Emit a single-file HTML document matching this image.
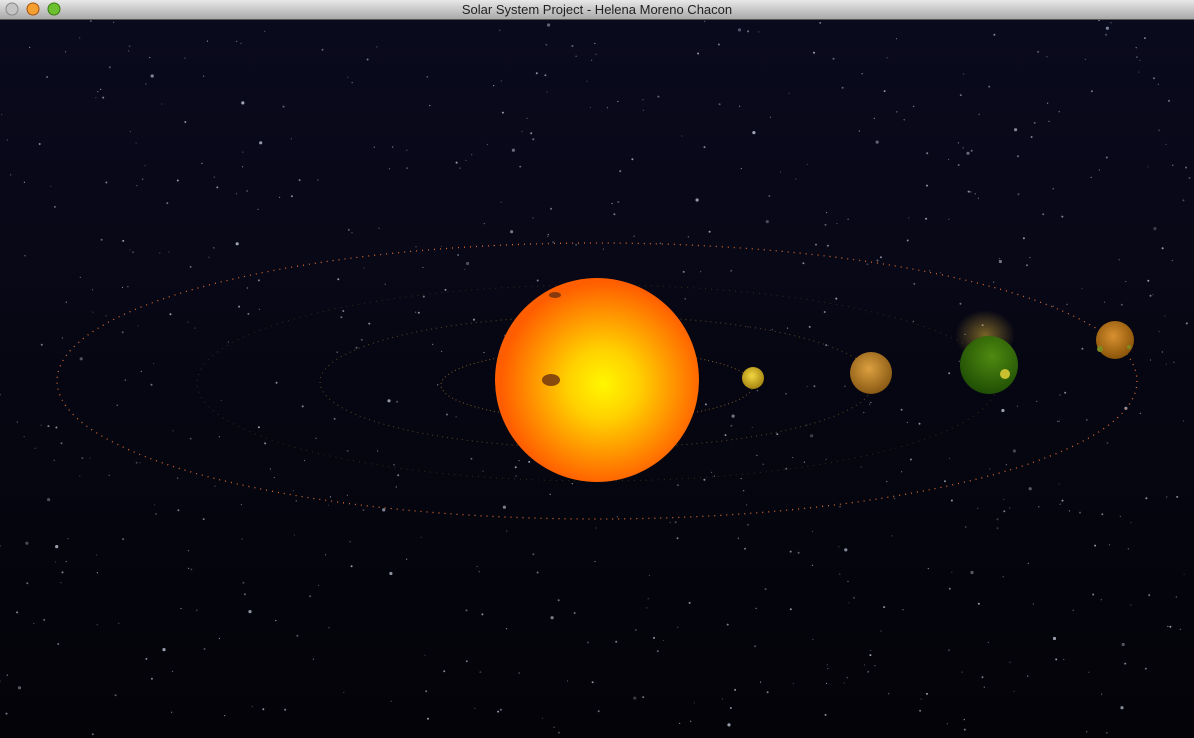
<!DOCTYPE html>
<html><head><meta charset="utf-8"><style>
html,body{margin:0;padding:0;width:1194px;height:738px;overflow:hidden;background:#04040c}
svg{display:block}
</style></head><body>
<svg id="s" width="1194" height="738" viewBox="0 0 1194 738">
<defs>
<linearGradient id="tb" x1="0" y1="0" x2="0" y2="1"><stop offset="0" stop-color="#e8e8e8"/><stop offset="1" stop-color="#a9a9a9"/></linearGradient>
<linearGradient id="bg" x1="0" y1="0" x2="0" y2="1"><stop offset="0" stop-color="#0a0a1e"/><stop offset="1" stop-color="#030308"/></linearGradient>
<radialGradient id="sun" cx="0.53" cy="0.52" r="0.5"><stop offset="0" stop-color="#fff700"/><stop offset="0.35" stop-color="#ffd000"/><stop offset="0.75" stop-color="#ff8a00"/><stop offset="1" stop-color="#ff5e00"/></radialGradient>
<radialGradient id="merc" cx="0.45" cy="0.4" r="0.6"><stop offset="0" stop-color="#f2d640"/><stop offset="1" stop-color="#a58410"/></radialGradient>
<radialGradient id="ven" cx="0.45" cy="0.4" r="0.6"><stop offset="0" stop-color="#dca040"/><stop offset="1" stop-color="#8a5a14"/></radialGradient>
<radialGradient id="ear" cx="0.55" cy="0.35" r="0.7"><stop offset="0" stop-color="#4f8a10"/><stop offset="1" stop-color="#1c4a04"/></radialGradient>
<radialGradient id="mar" cx="0.45" cy="0.4" r="0.6"><stop offset="0" stop-color="#d89030"/><stop offset="1" stop-color="#8a5408"/></radialGradient>
<radialGradient id="deb" cx="0.5" cy="0.5" r="0.5"><stop offset="0" stop-color="#a88a30" stop-opacity="0.7"/><stop offset="1" stop-color="#a88a30" stop-opacity="0"/></radialGradient>
</defs>
<rect x="0" y="0" width="1194" height="738" fill="url(#bg)"/>
<g id="stars"></g>
<ellipse cx="597" cy="381" rx="540" ry="138" fill="none" stroke="#d86a30" stroke-width="1.3" stroke-dasharray="1 5"/>
<ellipse cx="597" cy="382" rx="277" ry="66" fill="none" stroke="#5a4a20" stroke-width="1" stroke-dasharray="1 4"/>
<ellipse cx="597" cy="385" rx="156" ry="35" fill="none" stroke="#7a5a20" stroke-width="1" stroke-dasharray="1 3"/>
<ellipse cx="597" cy="383" rx="400" ry="98" fill="none" stroke="#2e2e1a" stroke-width="1" stroke-dasharray="1 5"/>
<circle cx="597" cy="380" r="102" fill="url(#sun)"/>
<ellipse cx="551" cy="380" rx="9" ry="6" fill="#6a3010" opacity="0.8"/>
<ellipse cx="555" cy="295" rx="6" ry="3" fill="#6a3010" opacity="0.8"/>
<circle cx="753" cy="378" r="11" fill="url(#merc)"/>
<circle cx="871" cy="373" r="21" fill="url(#ven)"/>
<ellipse cx="985" cy="335" rx="30" ry="25" fill="url(#deb)"/>
<circle cx="989" cy="365" r="29" fill="url(#ear)"/>
<circle cx="1005" cy="374" r="5" fill="#c8c030"/>
<circle cx="1115" cy="340" r="19" fill="url(#mar)"/>
<circle cx="1100" cy="349" r="3" fill="#7a8a20"/>
<circle cx="1129" cy="347" r="2" fill="#7a8a20"/>
<rect x="0" y="0" width="1194" height="19" fill="url(#tb)"/>
<line x1="0" y1="19.5" x2="1194" y2="19.5" stroke="#555"/>
<circle cx="12" cy="9" r="6" fill="#c4c4c4" stroke="#888"/>
<circle cx="33" cy="9" r="6" fill="#f4a030" stroke="#a85010"/>
<circle cx="54" cy="9" r="6" fill="#6cc030" stroke="#3a7a10"/>
<text x="597" y="14" text-anchor="middle" font-family="Liberation Sans, sans-serif" font-size="13" fill="#222">Solar System Project - Helena Moreno Chacon</text>
</svg>
<script>
var g=document.getElementById('stars');var seed=7;
function r(){seed=(seed*16807)%2147483647;return seed/2147483647;}
for(var i=0;i<700;i++){var c=document.createElementNS('http://www.w3.org/2000/svg','circle');
c.setAttribute('cx',(r()*1194).toFixed(1));c.setAttribute('cy',(20+r()*718).toFixed(1));
var s=r();c.setAttribute('r',s>0.93?1.6:(s>0.6?1:0.6));c.setAttribute('fill','#cfd6e8');c.setAttribute('opacity',(0.25+r()*0.5).toFixed(2));


g.appendChild(c);}
</script>
</body></html>
